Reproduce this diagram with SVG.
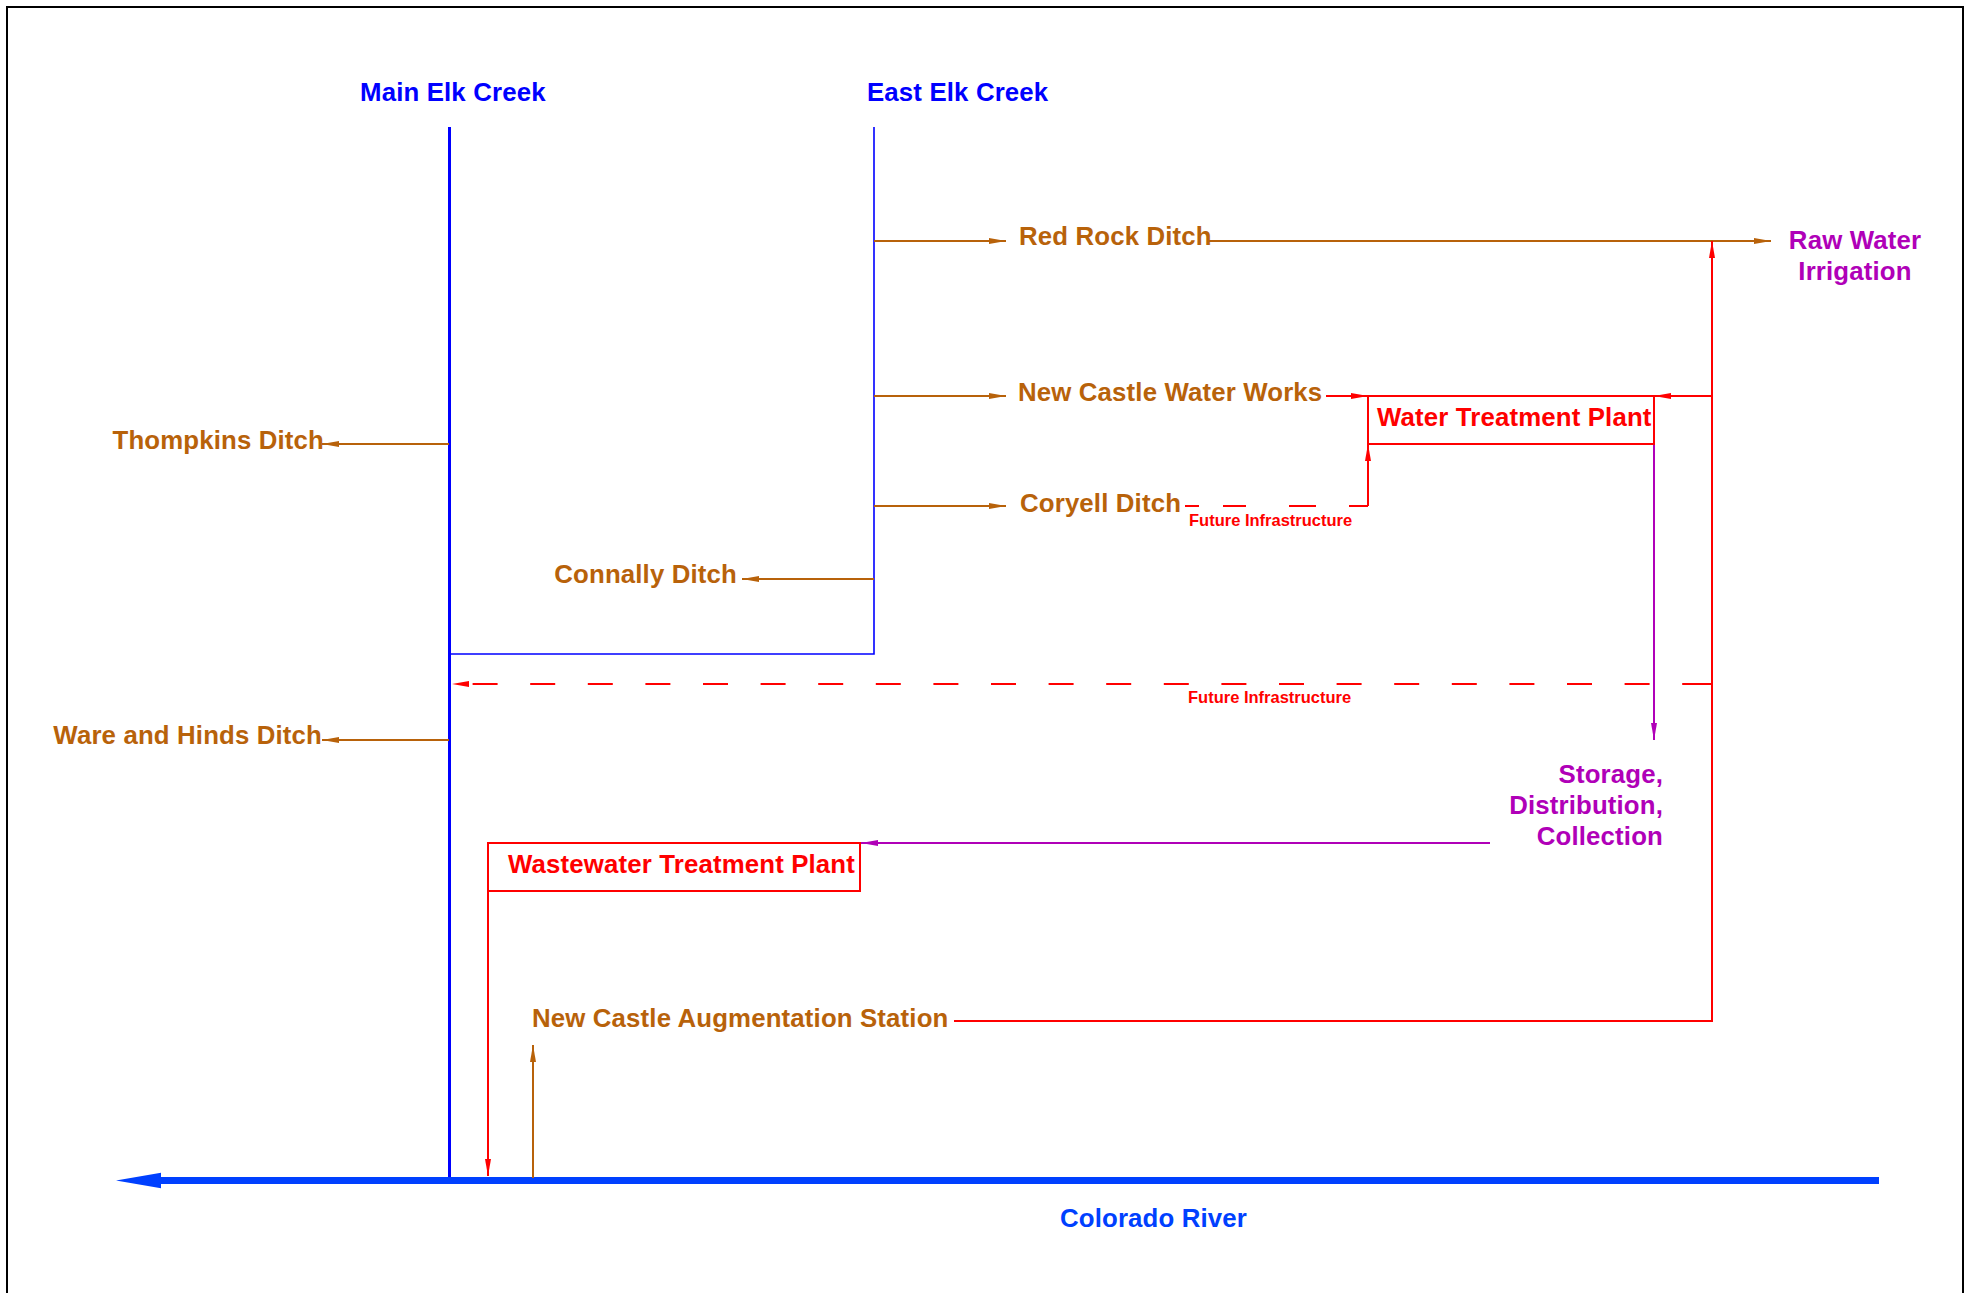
<svg xmlns="http://www.w3.org/2000/svg" width="1971" height="1293" viewBox="0 0 1971 1293">
<style>
text{font-family:"Liberation Sans",Arial,sans-serif;font-weight:bold;font-size:25.8px;letter-spacing:0.15px}
.blue{fill:#0000ff}
.brown{fill:#b8620a}
.red{fill:#ff0000}
.mag{fill:#b000b8}
.river{fill:#0040ff}
.small{font-size:16.5px;letter-spacing:0}
.lb{stroke:#b8620a;stroke-width:2;fill:none}
.lr{stroke:#ff0000;stroke-width:2;fill:none}
.lm{stroke:#b000b8;stroke-width:2;fill:none}
.dash{stroke-dasharray:25 32.6;stroke-dashoffset:52.8}
.box{fill:#ffffff;stroke:#ff0000;stroke-width:2}
</style>
<defs>
<marker id="ab" markerUnits="userSpaceOnUse" viewBox="0 0 17 6" markerWidth="17" markerHeight="6" refX="17" refY="3" orient="auto"><path d="M0,0 L17,3 L0,6 z" fill="#b8620a"/></marker>
<marker id="ar" markerUnits="userSpaceOnUse" viewBox="0 0 17 6" markerWidth="17" markerHeight="6" refX="17" refY="3" orient="auto"><path d="M0,0 L17,3 L0,6 z" fill="#ff0000"/></marker>
<marker id="am" markerUnits="userSpaceOnUse" viewBox="0 0 17 6" markerWidth="17" markerHeight="6" refX="17" refY="3" orient="auto"><path d="M0,0 L17,3 L0,6 z" fill="#b000b8"/></marker>
</defs>
<rect x="0" y="0" width="1971" height="1293" fill="#ffffff"/>
<rect x="7" y="7" width="1956" height="1300" fill="none" stroke="#000000" stroke-width="2"/>

<g id="connectors">
  <!-- creeks -->
  <path d="M449.5,127 V1181" stroke="#0000ff" stroke-width="3" fill="none"/>
  <path d="M874,127 V654 H449.5" stroke="#0000ff" stroke-width="1.6" fill="none"/>
  <!-- Colorado River -->
  <path d="M1879,1180.5 H160" stroke="#0040ff" stroke-width="7" fill="none"/>
  <polygon points="116,1180.5 161,1172.7 161,1188.3" fill="#0040ff"/>
  <!-- brown diversions -->
  <path class="lb" d="M874,241 H1006" marker-end="url(#ab)"/>
  <path class="lb" d="M1207,241 H1771" marker-end="url(#ab)"/>
  <path class="lb" d="M874,396 H1006" marker-end="url(#ab)"/>
  <path class="lb" d="M874,506 H1006" marker-end="url(#ab)"/>
  <path class="lb" d="M874,579 H742" marker-end="url(#ab)"/>
  <path class="lb" d="M449,444 H322" marker-end="url(#ab)"/>
  <path class="lb" d="M449,740 H322" marker-end="url(#ab)"/>
  <path class="lb" d="M533,1178 V1045" marker-end="url(#ab)"/>
  <!-- red -->
  <path class="lr" d="M1326,396 H1368" marker-end="url(#ar)"/>
  <path class="lr" d="M1712,396 H1654" marker-end="url(#ar)"/>
  <path class="lr" d="M954,1021 H1712 V241" marker-end="url(#ar)"/>
  <path class="lr" d="M1185,506 H1368" stroke-dasharray="14 24 23 43 27 33 20"/>
  <path class="lr" d="M1368,506 V444" marker-end="url(#ar)"/>
  <path class="lr dash" d="M1712,684 H452" marker-end="url(#ar)"/>
  <path class="lr" d="M1712,684 H1706"/>
  <path class="lr" d="M488,891 V1176" marker-end="url(#ar)"/>
  <!-- magenta -->
  <path class="lm" d="M1654,444 V740" marker-end="url(#am)"/>
  <path class="lm" d="M1490,843 H861" marker-end="url(#am)"/>
</g>

<g id="main-elk-creek"><text class="blue" x="360" y="101">Main Elk Creek</text></g>
<g id="east-elk-creek"><text class="blue" x="867" y="101">East Elk Creek</text></g>
<g id="red-rock-ditch"><text class="brown" x="1019" y="245">Red Rock Ditch</text></g>
<g id="new-castle-water-works"><text class="brown" x="1018" y="401">New Castle Water Works</text></g>
<g id="coryell-ditch"><text class="brown" x="1020" y="512">Coryell Ditch</text></g>
<g id="future-infrastructure-1"><text class="red small" x="1189" y="526">Future Infrastructure</text></g>
<g id="connally-ditch"><text class="brown" x="737" y="583" text-anchor="end">Connally Ditch</text></g>
<g id="thompkins-ditch"><text class="brown" x="324" y="449" text-anchor="end">Thompkins Ditch</text></g>
<g id="ware-hinds-ditch"><text class="brown" x="322" y="744" text-anchor="end">Ware and Hinds Ditch</text></g>
<g id="future-infrastructure-2"><text class="red small" x="1188" y="703">Future Infrastructure</text></g>
<g id="water-treatment-plant">
  <rect class="box" x="1368" y="396" width="286" height="48"/>
  <text class="red" x="1377" y="426">Water Treatment Plant</text>
</g>
<g id="raw-water-irrigation">
  <text class="mag" x="1855" y="249" text-anchor="middle">Raw Water</text>
  <text class="mag" x="1855" y="280" text-anchor="middle">Irrigation</text>
</g>
<g id="storage-distribution-collection">
  <text class="mag" x="1663" y="783" text-anchor="end">Storage,</text>
  <text class="mag" x="1663" y="814" text-anchor="end">Distribution,</text>
  <text class="mag" x="1663" y="845" text-anchor="end">Collection</text>
</g>
<g id="wastewater-treatment-plant">
  <rect class="box" x="488" y="843" width="372" height="48"/>
  <text class="red" x="508" y="873">Wastewater Treatment Plant</text>
</g>
<g id="augmentation-station"><text class="brown" x="532" y="1027">New Castle Augmentation Station</text></g>
<g id="colorado-river"><text class="river" x="1060" y="1227">Colorado River</text></g>
</svg>
